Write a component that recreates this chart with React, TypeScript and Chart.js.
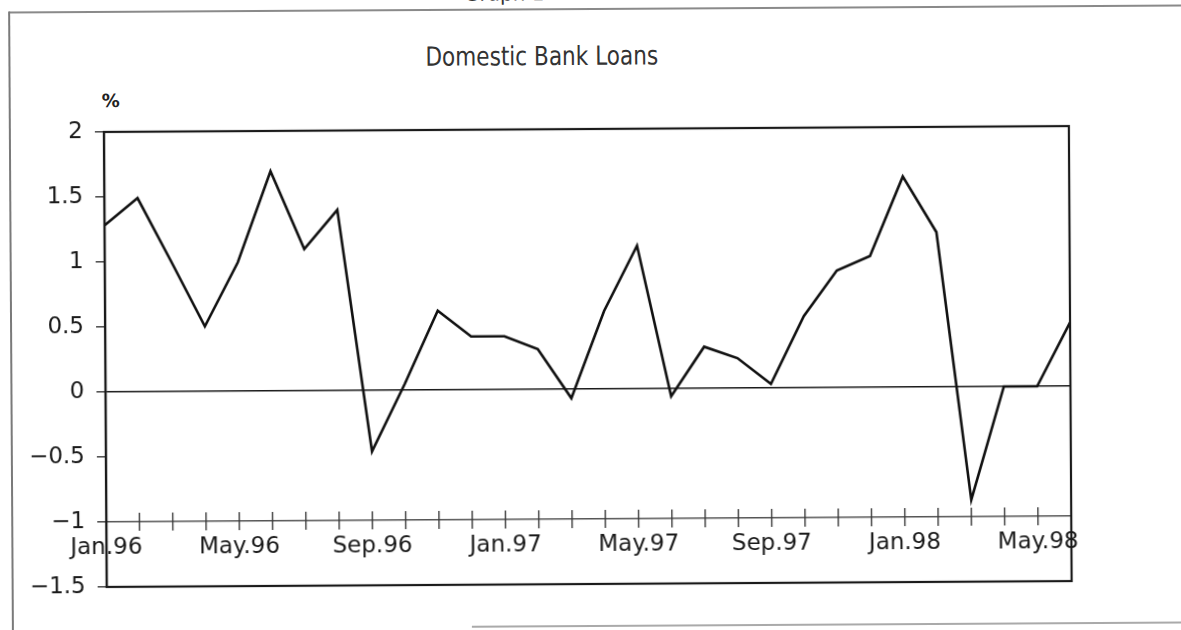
import { useEffect, useRef } from 'react';
import Chart from 'chart.js/auto';

// monthly change in domestic bank loans, Jan.96 - Jun.98 (%)
const months = [
  'Jan.96', 'Feb.96', 'Mar.96', 'Apr.96', 'May.96', 'Jun.96', 'Jul.96', 'Aug.96', 'Sep.96', 'Oct.96', 'Nov.96', 'Dec.96',
  'Jan.97', 'Feb.97', 'Mar.97', 'Apr.97', 'May.97', 'Jun.97', 'Jul.97', 'Aug.97', 'Sep.97', 'Oct.97', 'Nov.97', 'Dec.97',
  'Jan.98', 'Feb.98', 'Mar.98', 'Apr.98', 'May.98', 'Jun.98',
];
const loanChange = [
  1.28, 1.49, 1.0, 0.5, 0.99, 1.69, 1.09, 1.39, -0.47, 0.05, 0.61, 0.41,
  0.41, 0.31, -0.07, 0.6, 1.1, -0.06, 0.32, 0.23, 0.03, 0.55, 0.9, 1.01,
  1.62, 1.19, -0.87, 0.0, 0.0, 0.49,
];
const labelEvery = 4;
const yMin = -1.5;
const yMax = 2;
const yStep = 0.5;
const xAxisAt = -1;

// box round the plot + ticks that cross the x axis line
const frame = {
  id: 'frame',
  afterDraw(chart: any) {
    const { ctx, chartArea: a, scales } = chart;
    const yPx = scales.y.getPixelForValue(xAxisAt);
    ctx.save();
    ctx.strokeStyle = '#3a3a3a';
    ctx.lineWidth = 1.4;
    scales.x.ticks.forEach((_t: any, i: number) => {
      const px = scales.x.getPixelForTick(i);
      ctx.beginPath();
      ctx.moveTo(px, yPx - 9);
      ctx.lineTo(px, yPx + 9);
      ctx.stroke();
    });
    ctx.strokeStyle = '#1a1a1a';
    ctx.lineWidth = 2.2;
    ctx.strokeRect(a.left, a.top, a.right - a.left, a.bottom - a.top);
    ctx.restore();
  },
};

const BankLoansChart = () => {
  const canvasRef = useRef<HTMLCanvasElement | null>(null);

  useEffect(() => {
    if (!canvasRef.current) return;
    const chart = new Chart(canvasRef.current, {
      type: 'line',
      data: {
        labels: months,
        datasets: [
          {
            label: 'Domestic Bank Loans',
            data: loanChange,
            borderColor: '#111',
            borderWidth: 2.6,
            pointRadius: 0,
            tension: 0,
            fill: false,
          },
        ],
      },
      options: {
        animation: false,
        responsive: true,
        maintainAspectRatio: false,
        layout: { padding: { left: 5, top: 129, right: 111, bottom: 46 } },
        plugins: {
          legend: { display: false },
          title: { display: false },
          tooltip: { enabled: false },
        },
        scales: {
          x: {
            position: { y: xAxisAt } as any,
            offset: false,
            afterFit: (s: any) => {
              s.height = 0;
            },
            grid: {
              drawOnChartArea: false,
              drawTicks: true,
              tickLength: 9,
              tickColor: 'rgba(0,0,0,0)',
            },
            border: { display: true, color: '#555', width: 1.5 },
            ticks: {
              autoSkip: false,
              maxRotation: 0,
              minRotation: 0,
              padding: 3,
              color: '#1a1a1a',
              font: { family: 'DejaVu Sans', size: 23 },
              callback: (_v: any, i: number) => (i % labelEvery === 0 ? months[i] : ''),
            },
          },
          y: {
            min: yMin,
            max: yMax,
            afterFit: (s: any) => {
              s.width = 100;
            },
            grid: {
              color: (c: any) => (c.tick && c.tick.value === 0 ? '#1a1a1a' : 'rgba(0,0,0,0)'),
              lineWidth: 1.6,
              tickLength: 9,
              tickColor: '#555',
            },
            border: { display: true, color: '#1a1a1a', width: 2.2 },
            ticks: {
              stepSize: yStep,
              padding: 12,
              color: '#1a1a1a',
              font: { family: 'DejaVu Sans', size: 23 },
              callback: (v: any) => String(v).replace('-', '\u2212'),
            },
          },
        },
      },
      plugins: [frame],
    });
    return () => {
      chart.destroy();
    };
  }, []);

  return <canvas ref={canvasRef}></canvas>;
};

export default function App() {
  return (
    <div
      style={{
        position: 'absolute', left: 0, top: 0, width: 1181, height: 630,
        overflow: 'hidden', background: '#fff',
      }}
    >
      <div style={{ position: 'absolute', inset: 0, transform: 'rotate(-0.35deg)' }}>
        {/* page frame of the scan */}
        <div style={{ position: 'absolute', left: 11, top: 8, width: 1200, height: 2, background: '#8a8a8a' }} />
        <div style={{ position: 'absolute', left: 10, top: 8, width: 2, height: 640, background: '#7a7a7a' }} />
        <div style={{ position: 'absolute', left: 470, top: 625, width: 760, height: 2, background: '#aaa' }} />
        <div
          style={{
            position: 'absolute', left: 466, top: -19, fontFamily: 'DejaVu Sans', fontSize: 20,
            lineHeight: '24px', color: '#333', whiteSpace: 'nowrap',
          }}
        >
          Graph 1
        </div>
        <div
          style={{
            position: 'absolute', left: 427, top: 42, fontFamily: '"DejaVu Sans Condensed", sans-serif',
            fontSize: 24, lineHeight: '28px', color: '#333', whiteSpace: 'nowrap', transform: 'scaleY(1.1)',
            transformOrigin: 'left center',
          }}
        >
          Domestic Bank Loans
        </div>
        <div
          style={{
            position: 'absolute', left: 103, top: 88, fontFamily: 'DejaVu Sans', fontWeight: 'bold',
            fontSize: 18, lineHeight: '20px', color: '#222',
          }}
        >
          %
        </div>
        <div style={{ position: 'absolute', left: 0, top: 0, width: 1181, height: 630 }}>
          <BankLoansChart />
        </div>
      </div>
    </div>
  );
}
